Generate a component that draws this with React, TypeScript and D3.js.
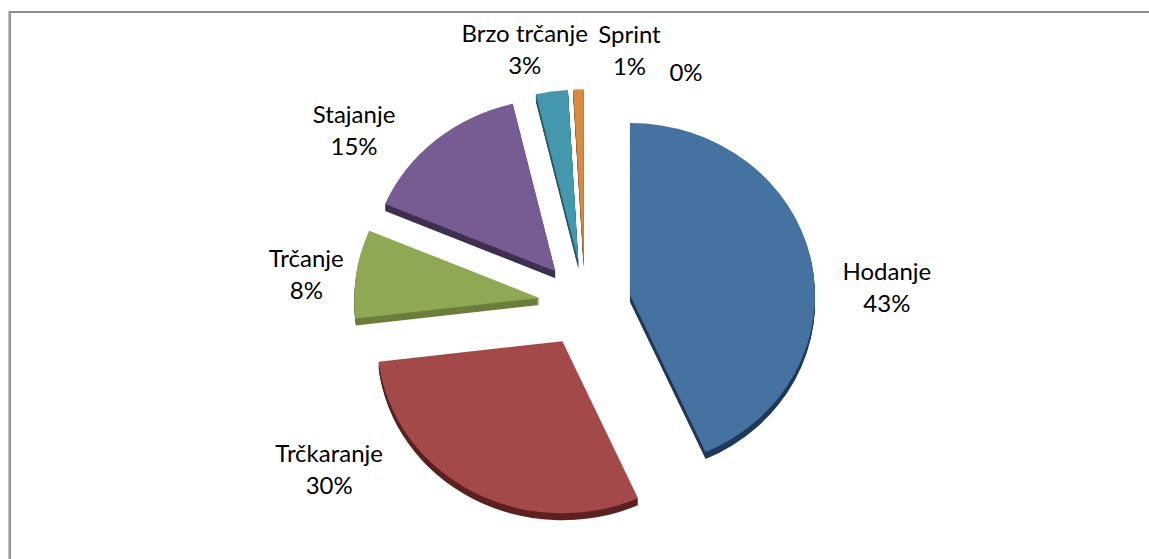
import * as d3 from "d3";
import React from "react";

// time share per movement category
const categories = ["Hodanje", "Trčkaranje", "Trčanje", "Stajanje", "Brzo trčanje", "Sprint", ""];
const shares = [43.3, 29.8, 8.3, 14.9, 2.8, 0.9, 0];

const topColors = ["#4672a2", "#a4494a", "#8ea854", "#775b93", "#4398ad", "#d98a43", "#9bbb59"];
const sideColors = ["#223a58", "#5c2120", "#6b7e3c", "#3f3050", "#255966", "#8e5626", "#556b2f"];

// label offsets (px) from the outer point of each exploded slice
const labelNudge: [number, number][] = [
  [76, 25],
  [-142, -25],
  [-50, -3],
  [-82, -13],
  [-27, -45],
  [51, -42],
  [101, -36],
];

const W = 1149;
const H = 559;
const CX = 585;
const CY = 304;
const R = 185;
const TILT = 0.93;
const EXPLODE = 46;
const DEPTH = 7;

export default function App() {
  const pie = d3
    .pie<number>()
    .sort(null)
    .value((d) => d)(shares);
  const arc = d3.arc<d3.PieArcDatum<number>>().innerRadius(0).outerRadius(R);

  const mid = (d: d3.PieArcDatum<number>) => (d.startAngle + d.endAngle) / 2;
  const shift = (d: d3.PieArcDatum<number>) => [EXPLODE * Math.sin(mid(d)), -EXPLODE * Math.cos(mid(d))];

  const layers = d3.range(DEPTH, 0, -1);

  return (
    <svg
      width={W}
      height={H}
      style={{ position: "absolute", left: 0, top: 0, background: "#fff" }}
      fontFamily="Lato, 'Open Sans', sans-serif"
    >
      <rect x={0} y={0} width={W} height={H} fill="#fff" />
      {/* chart frame */}
      <rect x={10} y={12} width={W + 20} height={H + 20} fill="none" stroke="#8c8c8c" strokeWidth={2} />
      <line x1={9} x2={9} y1={11} y2={H} stroke="#a8a8a8" strokeWidth={1.5} />

      {/* extruded sides */}
      {layers.map((j) => (
        <g key={"side" + j} transform={`translate(${CX},${CY + j}) scale(1,${TILT})`}>
          {pie.map((d, i) =>
            d.value > 0 ? (
              <path
                key={i}
                d={arc(d) || ""}
                transform={`translate(${shift(d)[0]},${shift(d)[1]})`}
                fill={sideColors[i]}
              />
            ) : null
          )}
        </g>
      ))}

      {/* top faces */}
      <g transform={`translate(${CX},${CY}) scale(1,${TILT})`}>
        {pie.map((d, i) =>
          d.value > 0 ? (
            <path
              key={i}
              d={arc(d) || ""}
              transform={`translate(${shift(d)[0]},${shift(d)[1]})`}
              fill={topColors[i]}
            />
          ) : null
        )}
      </g>

      {/* data labels */}
      <g fontSize={24} fill="#000" textAnchor="middle">
        {pie.map((d, i) => {
          const a = mid(d);
          const rr = EXPLODE + R;
          const x = CX + rr * Math.sin(a) + labelNudge[i][0];
          const y = CY - TILT * rr * Math.cos(a) + labelNudge[i][1];
          return (
            <g key={i}>
              {categories[i] ? (
                <text x={x} y={y - 4}>
                  {categories[i]}
                </text>
              ) : null}
              <text x={x} y={y + 28}>
                {Math.round(d.value) + "%"}
              </text>
            </g>
          );
        })}
      </g>
    </svg>
  );
}
